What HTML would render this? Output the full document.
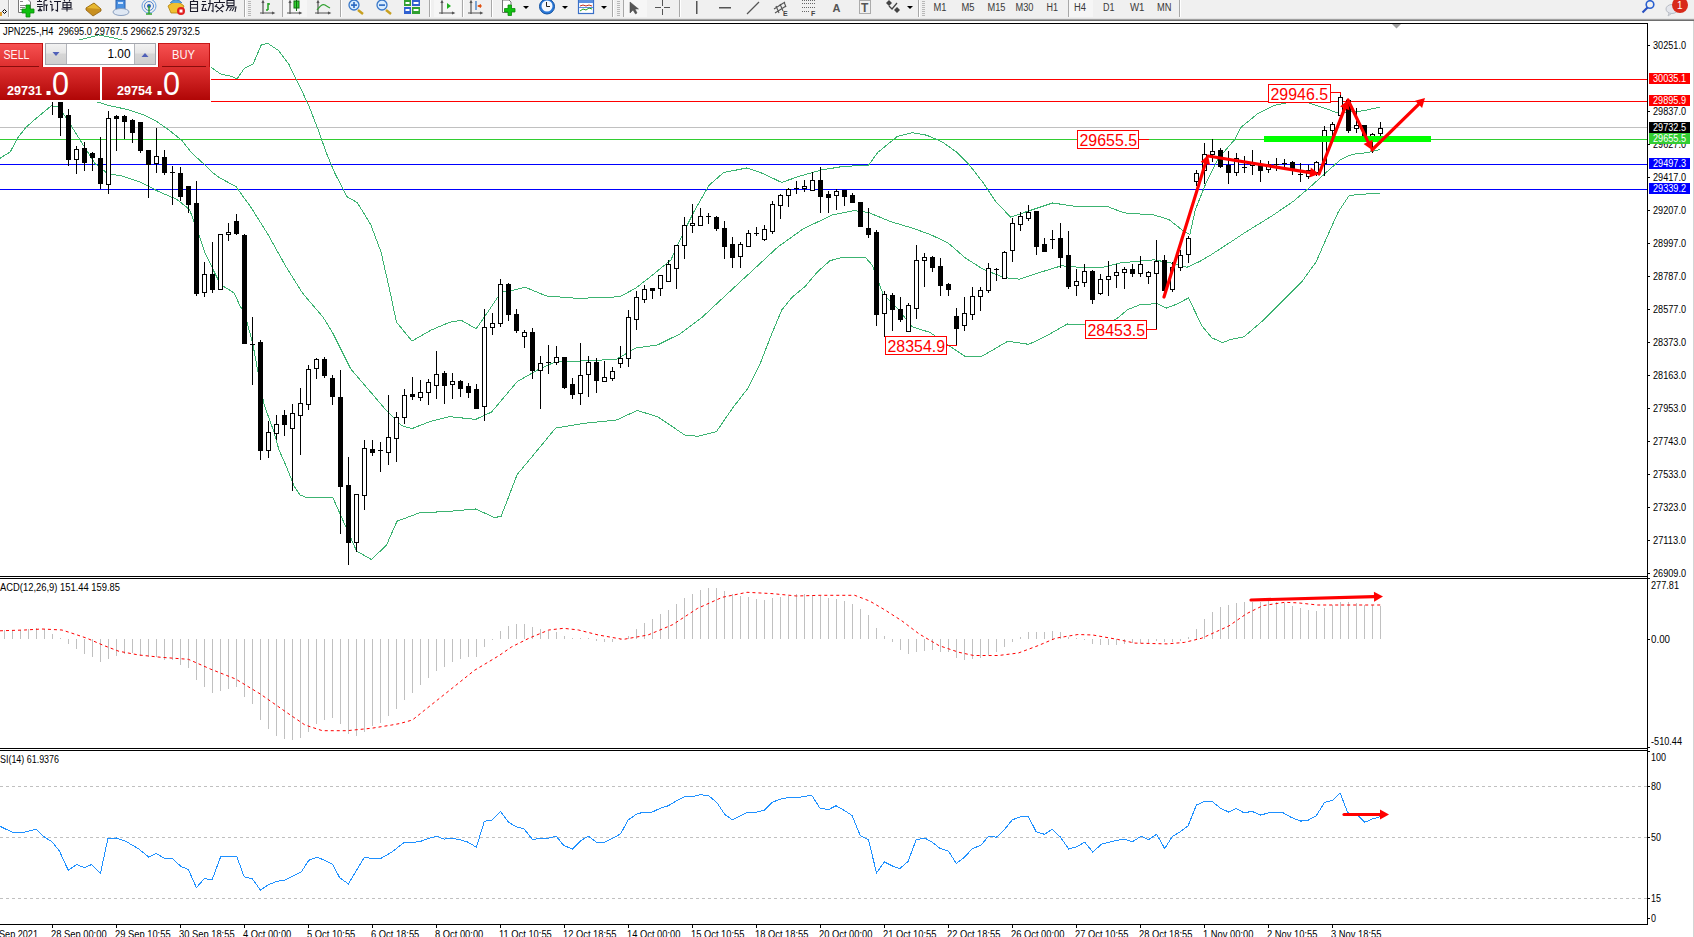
<!DOCTYPE html><html><head><meta charset="utf-8"><style>html,body{margin:0;padding:0;background:#fff;overflow:hidden}svg{display:block}text{font-family:"Liberation Sans", sans-serif}</style></head><body>
<svg width="1694" height="937" viewBox="0 0 1694 937">
<rect x="0" y="0" width="1694" height="937" fill="#fff"/>
<g id="toolbar">
<rect x="0" y="0" width="1694" height="19" fill="#f0f0f0"/>
<rect x="0" y="18" width="1694" height="1" fill="#e3e3e3"/>
<rect x="0" y="19" width="1694" height="1" fill="#a0a0a0"/>
<rect x="0" y="20" width="1694" height="1" fill="#6e6e6e"/>
</g>
<g id="tb">
<rect x="0" y="12" width="2" height="4" fill="#e0a030"/>
<polygon points="4.5,9.5 6.5,11.5 4.5,13.5 2.5,11.5" fill="none" stroke="#000" stroke-width="1"/>
<rect x="8" y="0" width="1" height="17" fill="#a8a8a8" shape-rendering="crispEdges"/>
<rect x="9" y="0" width="1" height="17" fill="#ffffff" shape-rendering="crispEdges"/>
<path d="M18.5,-1.5 H27 L30.5,2 V12.5 H18.5 Z" fill="#fff" stroke="#777" stroke-width="1"/>
<rect x="20" y="1" width="3" height="1" fill="#888"/><rect x="20" y="5" width="6" height="1" fill="#888"/><rect x="20" y="7" width="5" height="1" fill="#888"/><rect x="20" y="9" width="3" height="1" fill="#888"/>
<path d="M26,5 h4 v4 h4 v4 h-4 v4 h-4 v-4 h-4 v-4 h4 z" fill="#10c010" stroke="#0a8a0a" stroke-width="0.8"/>
<g stroke="#1a1a2a" stroke-width="1.1" fill="none">
<path d="M37,1.5 h5 M39.5,0 v2 M37,4.5 h5.5 M37,6.5 h6 M40,6.5 v5 M40,9 l-2,2 M40,9 l2,2 M44,1 v10 M44,1 l3,-1 M44,5 h4 M46.5,5 v6"/>
<path d="M50,1 l1.5,1.5 M50,4.5 h2 v6 l1.5,-1.5 M54,1.5 h7 M57.5,1.5 v9.5 l-2,-1"/>
<path d="M64,0 l1,1.5 M70,0 l-1,1.5 M63,2.5 h8 v5 h-8 z M63,5 h8 M61.5,9 h11 M67,2.5 v9"/>
</g>
<path d="M86,8 L94,3 L101,9 L93,14 Z" fill="#e8b830" stroke="#a07010" stroke-width="1"/>
<path d="M86,8 L86,10 L93,16 L101,11 L101,9" fill="#c89020" stroke="#906010" stroke-width="0.8"/>
<rect x="116" y="0" width="9" height="9" fill="#4a90e0" stroke="#2a60b0" stroke-width="1"/>
<rect x="118" y="2" width="5" height="2" fill="#cfe4ff"/>
<ellipse cx="121" cy="12" rx="8" ry="3.5" fill="#dfe8f4" stroke="#8aa0c0" stroke-width="1"/>
<circle cx="149" cy="6" r="7" fill="none" stroke="#6aa0e0" stroke-width="1"/>
<circle cx="149" cy="6" r="4.5" fill="none" stroke="#4a80d0" stroke-width="1"/>
<circle cx="149" cy="6" r="2" fill="#2a60b0"/>
<path d="M149,6 v8 M146,14 h6" stroke="#30a030" stroke-width="1.5"/>
<path d="M168,6 Q176,-2 184,6 L181,13 L171,13 Z" fill="#f0c030" stroke="#b08010" stroke-width="0.8"/>
<path d="M170,3 Q176,-4 182,3" fill="#5aa0d8" stroke="#3070b0" stroke-width="0.8"/>
<circle cx="181" cy="11" r="4" fill="#e02020"/><rect x="179.5" y="9.5" width="3" height="3" fill="#fff"/>
<g stroke="#1a1a2a" stroke-width="1.1" fill="none">
<path d="M194,0 l-1,1.5 M190.5,1.5 h7 v10 h-7 z M190.5,4.5 h7 M190.5,8 h7"/>
<path d="M202,1.5 h4 M201.5,4.5 h5 M204,4.5 l-2,6 h5 M205,8 l1,2 M208,3.5 h5 v8 l-1.5,-1 M210,0 v5 l-2,6"/>
<path d="M219.5,0 v2 M214,2.5 h11 M217,4 l-2,3 M222,4 l2,3 M216,6 l7,6 M223,6 l-7,6"/>
<path d="M227,0.5 h7 v5 h-7 z M227,3 h7 M227,7 h9 l-1,5 M229,6 l-3,5 M231.5,8 l-2,3 M234,8 l-2,3"/>
</g>
<rect x="244" y="0" width="1" height="17" fill="#a8a8a8" shape-rendering="crispEdges"/>
<rect x="245" y="0" width="1" height="17" fill="#ffffff" shape-rendering="crispEdges"/>
<rect x="248" y="1" width="3" height="1" fill="#b8b8b8" shape-rendering="crispEdges"/>
<rect x="248" y="3" width="3" height="1" fill="#b8b8b8" shape-rendering="crispEdges"/>
<rect x="248" y="5" width="3" height="1" fill="#b8b8b8" shape-rendering="crispEdges"/>
<rect x="248" y="7" width="3" height="1" fill="#b8b8b8" shape-rendering="crispEdges"/>
<rect x="248" y="9" width="3" height="1" fill="#b8b8b8" shape-rendering="crispEdges"/>
<rect x="248" y="11" width="3" height="1" fill="#b8b8b8" shape-rendering="crispEdges"/>
<rect x="248" y="13" width="3" height="1" fill="#b8b8b8" shape-rendering="crispEdges"/>
<rect x="248" y="15" width="3" height="1" fill="#b8b8b8" shape-rendering="crispEdges"/>
<g stroke="#555" stroke-width="1.2" fill="none"><path d="M263,1 V14 M260,13 H274 M262,3 l1,-2 l1,2 M272,12 l2,1 l-2,1"/></g>
<path d="M268,3 V10 M266,10 H268 M268,4 H270" stroke="#20a020" stroke-width="1.5"/>
<rect x="282" y="0" width="1" height="17" fill="#a8a8a8" shape-rendering="crispEdges"/>
<rect x="283" y="0" width="1" height="17" fill="#ffffff" shape-rendering="crispEdges"/>
<rect x="283" y="0" width="24" height="17" fill="#f6f6f6" shape-rendering="crispEdges"/>
<g stroke="#555" stroke-width="1.2" fill="none"><path d="M290,1 V14 M287,13 H301 M289,3 l1,-2 l1,2 M299,12 l2,1 l-2,1"/></g>
<rect x="294" y="1" width="5" height="7" fill="#30d030" stroke="#107010" stroke-width="1"/><path d="M296.5,0 V11" stroke="#107010" stroke-width="1"/>
<g stroke="#555" stroke-width="1.2" fill="none"><path d="M318,1 V14 M315,13 H330 M317,3 l1,-2 l1,2 M328,12 l2,1 l-2,1"/></g>
<path d="M317,10 Q322,3 325,5 T330,8" stroke="#30a030" stroke-width="1.2" fill="none"/>
<rect x="340" y="0" width="1" height="17" fill="#a8a8a8" shape-rendering="crispEdges"/>
<rect x="341" y="0" width="1" height="17" fill="#ffffff" shape-rendering="crispEdges"/>
<line x1="358" y1="10" x2="363" y2="14" stroke="#c8a020" stroke-width="2.5"/>
<circle cx="354" cy="5" r="5" fill="#d8ecff" stroke="#3a78c8" stroke-width="1.3"/>
<rect x="351" y="4.3" width="6" height="1.6" fill="#2a68c0"/>
<rect x="353.2" y="2" width="1.6" height="6" fill="#2a68c0"/>
<line x1="386" y1="10" x2="391" y2="14" stroke="#c8a020" stroke-width="2.5"/>
<circle cx="382" cy="5" r="5" fill="#d8ecff" stroke="#3a78c8" stroke-width="1.3"/>
<rect x="379" y="4.3" width="6" height="1.6" fill="#2a68c0"/>
<rect x="404" y="0" width="7" height="6" fill="#30a030"/><rect x="412" y="0" width="8" height="6" fill="#3060d0"/><rect x="404" y="7" width="7" height="7" fill="#3060d0"/><rect x="412" y="7" width="8" height="7" fill="#30a030"/>
<g fill="#fff"><rect x="405.5" y="2" width="4" height="2"/><rect x="413.5" y="2" width="5" height="2"/><rect x="405.5" y="9" width="4" height="2"/><rect x="413.5" y="9" width="5" height="2"/></g>
<rect x="429" y="0" width="1" height="17" fill="#a8a8a8" shape-rendering="crispEdges"/>
<rect x="430" y="0" width="1" height="17" fill="#ffffff" shape-rendering="crispEdges"/>
<rect x="434" y="0" width="27" height="17" fill="#f6f6f6" shape-rendering="crispEdges"/>
<g stroke="#555" stroke-width="1.2" fill="none"><path d="M442,1 V14 M439,13 H454 M441,3 l1,-2 l1,2 M452,12 l2,1 l-2,1"/></g>
<polygon points="447,3 451,6 447,9" fill="#20b020"/>
<rect x="462" y="0" width="1" height="17" fill="#a8a8a8" shape-rendering="crispEdges"/>
<rect x="463" y="0" width="1" height="17" fill="#ffffff" shape-rendering="crispEdges"/>
<g stroke="#555" stroke-width="1.2" fill="none"><path d="M471,1 V14 M468,13 H482 M470,3 l1,-2 l1,2 M480,12 l2,1 l-2,1"/></g>
<path d="M476,1 V10" stroke="#2a70c0" stroke-width="1.2"/><polygon points="477,6 481,4 481,8" fill="#e05010"/><rect x="478" y="5.5" width="4" height="1" fill="#e05010"/>
<rect x="491" y="0" width="1" height="17" fill="#a8a8a8" shape-rendering="crispEdges"/>
<rect x="492" y="0" width="1" height="17" fill="#ffffff" shape-rendering="crispEdges"/>
<path d="M502.5,0 H509 L511,2 V12.5 H502.5 Z" fill="#fff" stroke="#777" stroke-width="1"/>
<path d="M508,5 h3.5 v3.5 h3.5 v3.5 h-3.5 v3.5 h-3.5 v-3.5 h-3.5 v-3.5 h3.5 z" fill="#10c010" stroke="#0a8a0a" stroke-width="0.8"/>
<polygon points="523,6 529,6 526,9" fill="#000"/>
<circle cx="547" cy="6.5" r="7.5" fill="#2a78d8" stroke="#1050a0" stroke-width="1"/>
<circle cx="547" cy="6" r="5.5" fill="#f4f8ff"/>
<path d="M546.5,2 V6.5 H550" stroke="#222" stroke-width="1" fill="none"/>
<polygon points="562,6 568,6 565,9" fill="#000"/>
<rect x="578.5" y="0.5" width="15" height="13" fill="#fff" stroke="#3a70c8" stroke-width="1.2"/>
<rect x="579" y="0" width="14" height="3" fill="#5a90e0"/><rect x="579" y="7" width="14" height="1" fill="#5a90e0"/>
<path d="M580,6 l3,-1 l3,1 l3,-1 l3,1" stroke="#c03020" stroke-width="1" fill="none"/><path d="M580,11 l3,-2 l3,1 l3,-2 l3,1" stroke="#20a020" stroke-width="1" fill="none"/>
<polygon points="601,6 607,6 604,9" fill="#000"/>
<rect x="612" y="0" width="1" height="17" fill="#a8a8a8" shape-rendering="crispEdges"/>
<rect x="613" y="0" width="1" height="17" fill="#ffffff" shape-rendering="crispEdges"/>
<rect x="617" y="1" width="3" height="1" fill="#b8b8b8" shape-rendering="crispEdges"/>
<rect x="617" y="3" width="3" height="1" fill="#b8b8b8" shape-rendering="crispEdges"/>
<rect x="617" y="5" width="3" height="1" fill="#b8b8b8" shape-rendering="crispEdges"/>
<rect x="617" y="7" width="3" height="1" fill="#b8b8b8" shape-rendering="crispEdges"/>
<rect x="617" y="9" width="3" height="1" fill="#b8b8b8" shape-rendering="crispEdges"/>
<rect x="617" y="11" width="3" height="1" fill="#b8b8b8" shape-rendering="crispEdges"/>
<rect x="617" y="13" width="3" height="1" fill="#b8b8b8" shape-rendering="crispEdges"/>
<rect x="617" y="15" width="3" height="1" fill="#b8b8b8" shape-rendering="crispEdges"/>
<rect x="623" y="0" width="1" height="17" fill="#a8a8a8" shape-rendering="crispEdges"/>
<rect x="624" y="0" width="1" height="17" fill="#ffffff" shape-rendering="crispEdges"/>
<rect x="624" y="0" width="23" height="17" fill="#f6f6f6" shape-rendering="crispEdges"/>
<path d="M630,2 L630,13 L633,10 L635.5,14 L637,13 L635,9 L638.5,9 Z" fill="#555" stroke="#444" stroke-width="0.5"/>
<g fill="#555" shape-rendering="crispEdges"><rect x="655" y="7" width="6" height="1"/><rect x="664" y="7" width="6" height="1"/><rect x="662" y="0" width="1" height="6"/><rect x="662" y="9" width="1" height="6"/></g>
<rect x="679" y="0" width="1" height="17" fill="#a8a8a8" shape-rendering="crispEdges"/>
<rect x="680" y="0" width="1" height="17" fill="#ffffff" shape-rendering="crispEdges"/>
<rect x="696" y="1" width="1.5" height="13" fill="#555"/>
<rect x="719" y="7" width="12" height="1.5" fill="#555"/>
<line x1="747" y1="14" x2="759" y2="2" stroke="#555" stroke-width="1.3"/>
<g stroke="#555" stroke-width="1.1" fill="none"><path d="M774,9 l11,-7 M775,13 l11,-7 M776,6 l3,7 M780,4 l3,7 M784,2 l2,5"/></g>
<text x="783" y="16" font-size="7" font-weight="bold" fill="#444">E</text>
<g stroke="#666" stroke-width="1" stroke-dasharray="1,1" shape-rendering="crispEdges"><line x1="802" y1="0.5" x2="815" y2="0.5"/><line x1="802" y1="3.5" x2="815" y2="3.5"/><line x1="802" y1="7.5" x2="815" y2="7.5"/><line x1="802" y1="11.5" x2="810" y2="11.5"/></g>
<text x="811" y="16" font-size="7" font-weight="bold" fill="#444">F</text>
<text x="832.5" y="11.7" font-size="11" font-weight="bold" fill="#555">A</text>
<rect x="859.5" y="0.5" width="11" height="13" fill="none" stroke="#666" stroke-width="1" stroke-dasharray="1,1"/>
<text x="861" y="12" font-size="12" font-weight="bold" fill="#555">T</text>
<polygon points="886,3 889,0 892,3 889,6" fill="#444"/><path d="M889,6 l3,3 l5,-6" stroke="#444" stroke-width="1.3" fill="none"/><polygon points="894,10 897,7 900,10 897,13" fill="#444"/>
<polygon points="907,6 913,6 910,9" fill="#000"/>
<rect x="918" y="0" width="1" height="17" fill="#a8a8a8" shape-rendering="crispEdges"/>
<rect x="919" y="0" width="1" height="17" fill="#ffffff" shape-rendering="crispEdges"/>
<rect x="922" y="1" width="3" height="1" fill="#b8b8b8" shape-rendering="crispEdges"/>
<rect x="922" y="3" width="3" height="1" fill="#b8b8b8" shape-rendering="crispEdges"/>
<rect x="922" y="5" width="3" height="1" fill="#b8b8b8" shape-rendering="crispEdges"/>
<rect x="922" y="7" width="3" height="1" fill="#b8b8b8" shape-rendering="crispEdges"/>
<rect x="922" y="9" width="3" height="1" fill="#b8b8b8" shape-rendering="crispEdges"/>
<rect x="922" y="11" width="3" height="1" fill="#b8b8b8" shape-rendering="crispEdges"/>
<rect x="922" y="13" width="3" height="1" fill="#b8b8b8" shape-rendering="crispEdges"/>
<rect x="922" y="15" width="3" height="1" fill="#b8b8b8" shape-rendering="crispEdges"/>
<text x="933.5" y="11" font-size="10" fill="#3a3a3a" text-anchor="start" font-weight="normal" textLength="13" lengthAdjust="spacingAndGlyphs">M1</text>
<text x="961.5" y="11" font-size="10" fill="#3a3a3a" text-anchor="start" font-weight="normal" textLength="13" lengthAdjust="spacingAndGlyphs">M5</text>
<text x="987.5" y="11" font-size="10" fill="#3a3a3a" text-anchor="start" font-weight="normal" textLength="18" lengthAdjust="spacingAndGlyphs">M15</text>
<text x="1015.5" y="11" font-size="10" fill="#3a3a3a" text-anchor="start" font-weight="normal" textLength="18" lengthAdjust="spacingAndGlyphs">M30</text>
<text x="1046.5" y="11" font-size="10" fill="#3a3a3a" text-anchor="start" font-weight="normal" textLength="11.5" lengthAdjust="spacingAndGlyphs">H1</text>
<rect x="1068" y="0" width="1" height="17" fill="#a8a8a8" shape-rendering="crispEdges"/>
<rect x="1069" y="0" width="1" height="17" fill="#ffffff" shape-rendering="crispEdges"/>
<rect x="1069" y="0" width="24" height="17" fill="#f6f6f6" shape-rendering="crispEdges"/>
<text x="1074" y="11" font-size="10" fill="#3a3a3a" text-anchor="start" font-weight="normal" textLength="12" lengthAdjust="spacingAndGlyphs">H4</text>
<text x="1103" y="11" font-size="10" fill="#3a3a3a" text-anchor="start" font-weight="normal" textLength="11.5" lengthAdjust="spacingAndGlyphs">D1</text>
<text x="1130" y="11" font-size="10" fill="#3a3a3a" text-anchor="start" font-weight="normal" textLength="14.5" lengthAdjust="spacingAndGlyphs">W1</text>
<text x="1157" y="11" font-size="10" fill="#3a3a3a" text-anchor="start" font-weight="normal" textLength="14.5" lengthAdjust="spacingAndGlyphs">MN</text>
<rect x="1179" y="0" width="1" height="17" fill="#a8a8a8" shape-rendering="crispEdges"/>
<rect x="1180" y="0" width="1" height="17" fill="#ffffff" shape-rendering="crispEdges"/>
<circle cx="1650" cy="4.5" r="3.8" fill="none" stroke="#2a60d0" stroke-width="1.6"/>
<line x1="1647.5" y1="7.5" x2="1642.5" y2="12.5" stroke="#2a50c0" stroke-width="2.2"/>
<ellipse cx="1672" cy="9" rx="6" ry="4.5" fill="#e4e6ec" stroke="#b8bcc4" stroke-width="1"/>
<path d="M1669,13 l-1,3 l3,-2" fill="#d0d4dc" stroke="#b8bcc4" stroke-width="0.8"/>
<circle cx="1680" cy="5" r="8" fill="#d82a1a"/>
<text x="1677" y="9" font-size="10" fill="#fff" font-family="Liberation Serif">1</text>
</g>
<g shape-rendering="crispEdges">
<rect x="1693" y="21" width="1" height="916" fill="#d4d4d4"/>
<rect x="0" y="23" width="1648" height="1" fill="#000"/>
<rect x="0" y="576" width="1648" height="1" fill="#000"/>
<rect x="0" y="578" width="1648" height="1" fill="#000"/>
<rect x="0" y="748" width="1648" height="1" fill="#000"/>
<rect x="0" y="750" width="1648" height="1" fill="#000"/>
<rect x="0" y="924" width="1648" height="1" fill="#000"/>
<rect x="1647" y="23" width="1" height="902" fill="#000"/>
</g>
<defs><clipPath id="cm"><rect x="0" y="24" width="1647" height="552"/></clipPath><clipPath id="cmacd"><rect x="0" y="579" width="1647" height="169"/></clipPath><clipPath id="crsi"><rect x="0" y="751" width="1647" height="173"/></clipPath></defs>
<g clip-path="url(#cm)">
<g shape-rendering="crispEdges">
<rect x="0" y="79" width="1647" height="1" fill="#ff0000"/>
<rect x="0" y="101" width="1647" height="1" fill="#ff0000"/>
<rect x="0" y="127" width="1647" height="1" fill="#c0c0c0"/>
<rect x="0" y="139" width="1647" height="1" fill="#32cd32"/>
<rect x="0" y="164" width="1647" height="1" fill="#0000ff"/>
<rect x="0" y="189" width="1647" height="1" fill="#0000ff"/>
</g>
<polyline points="79.0,40.0 89.6,37.4 98.6,34.9 107.6,36.6 122.4,40.0 140.0,46.0 180.0,58.0 211.3,67.4 220.5,74.0 230.7,76.1 236.9,79.0 244.4,68.3 253.0,64.2 261.5,44.3 268.3,43.7 278.6,50.5 288.8,64.2 299.0,84.7 309.3,106.9 317.9,129.1 326.4,153.0 335.0,173.5 346.9,196.7 357.2,202.5 370.8,224.7 381.0,252.0 389.6,289.7 396.4,322.0 411.9,341.0 431.3,330.0 449.3,322.4 461.2,320.2 476.2,328.8 488.4,311.2 501.2,292.0 512.4,290.4 525.2,287.2 546.0,295.9 578.0,298.4 619.7,296.8 635.7,288.2 653.3,274.4 670.9,260.0 680.0,239.7 694.5,210.6 709.0,185.3 723.5,172.6 747.1,167.9 763.4,173.7 781.5,182.4 799.7,176.2 821.4,170.0 843.2,166.4 868.5,165.3 877.6,152.6 897.5,136.3 912.0,132.7 926.6,135.2 942.0,141.8 956.9,152.3 968.8,164.2 983.8,183.6 995.7,201.6 1010.6,217.1 1025.6,212.0 1052.5,203.0 1073.4,206.0 1106.2,206.0 1124.1,212.9 1154.0,215.0 1168.9,219.5 1183.9,231.4 1189.9,234.4 1195.4,209.6 1205.6,184.0 1218.4,158.4 1235.0,139.2 1241.0,127.4 1257.7,113.6 1274.4,105.3 1288.0,102.5 1307.7,102.5 1324.3,108.0 1335.4,112.2 1349.3,112.2 1363.0,110.8 1379.8,107.2" fill="none" stroke="#3cb371" stroke-width="1" shape-rendering="crispEdges"/>
<polyline points="60.0,92.0 97.3,102.0 110.1,105.8 128.0,109.6 143.4,114.7 156.2,121.2 169.0,130.1 181.8,140.4 192.0,153.2 204.9,165.0 213.7,173.5 220.0,178.0 235.9,186.5 251.2,207.7 268.3,235.0 285.4,265.7 302.5,293.1 323.0,317.0 332.7,332.9 350.6,368.8 368.6,389.7 386.5,410.6 401.4,425.6 411.9,428.6 431.3,421.1 449.3,416.6 475.6,419.4 491.6,412.0 517.2,381.6 539.6,368.8 555.6,361.8 587.6,360.8 616.5,359.2 635.7,348.0 658.0,344.8 680.5,333.6 701.8,317.6 727.1,294.0 752.5,270.5 777.9,246.9 803.3,228.8 832.3,215.0 854.0,210.6 868.5,212.5 890.3,221.5 912.0,228.0 930.0,234.4 947.9,242.8 965.8,258.3 983.8,269.7 1004.7,277.7 1019.6,279.2 1037.5,273.2 1061.4,265.8 1079.3,267.3 1103.2,267.3 1121.2,262.8 1154.0,259.8 1174.9,263.7 1186.9,267.3 1200.0,261.3 1211.7,254.4 1233.8,240.0 1246.6,231.5 1271.6,216.2 1293.8,201.0 1313.2,184.3 1329.9,169.0 1341.0,159.3 1352.0,154.4 1368.7,152.4 1379.8,149.6" fill="none" stroke="#3cb371" stroke-width="1" shape-rendering="crispEdges"/>
<polyline points="0.0,158.3 10.2,151.9 17.9,137.8 25.6,127.6 35.9,118.6 51.2,105.8 58.9,107.0 69.1,122.4 81.9,142.9 94.8,163.4 107.6,173.6 122.9,176.2 138.3,181.3 158.8,191.6 176.7,199.3 189.5,209.5 197.2,230.0 204.9,253.0 220.5,284.5 234.2,293.0 240.0,306.0 245.0,314.0 253.0,345.0 263.9,404.0 274.0,432.0 279.0,450.0 287.0,468.0 294.0,486.0 300.0,495.0 306.0,497.3 332.7,497.3 344.6,524.2 356.6,551.1 371.5,559.5 386.5,545.1 397.0,521.2 419.4,512.9 450.0,511.3 475.6,509.0 494.8,517.7 501.2,516.1 517.2,474.5 533.2,455.3 555.6,428.0 584.4,423.3 616.5,420.0 637.3,410.4 658.0,416.9 685.3,435.4 698.1,436.2 716.3,431.8 732.7,407.9 747.6,388.7 760.4,363.1 771.1,335.4 781.8,309.8 792.4,297.0 805.2,286.3 818.0,271.3 830.0,260.7 843.2,257.0 864.9,257.0 872.2,265.0 883.0,294.0 897.5,308.5 912.0,326.7 930.0,332.4 947.9,344.9 965.8,356.9 980.8,356.9 1007.7,341.3 1028.6,344.3 1043.5,337.5 1067.4,324.0 1085.3,324.6 1103.2,324.6 1116.3,319.0 1127.9,309.5 1139.4,305.0 1157.0,303.5 1166.5,308.0 1176.0,304.5 1188.5,298.0 1202.0,326.0 1211.7,337.7 1222.6,342.6 1230.0,339.7 1243.9,336.9 1263.3,320.2 1285.5,298.0 1302.1,281.4 1316.0,262.0 1327.0,237.0 1338.2,212.0 1349.3,195.4 1365.9,194.0 1379.8,193.2" fill="none" stroke="#3cb371" stroke-width="1" shape-rendering="crispEdges"/>
<g shape-rendering="crispEdges">
<rect x="52" y="96" width="1" height="19" fill="#000"/>
<rect x="50" y="96" width="5" height="5" fill="#000"/>
<rect x="60" y="96" width="1" height="40" fill="#000"/>
<rect x="58" y="96" width="5" height="22" fill="#000"/>
<rect x="68" y="109" width="1" height="57" fill="#000"/>
<rect x="66" y="115" width="5" height="45" fill="#000"/>
<rect x="76" y="146" width="1" height="28" fill="#000"/>
<rect x="74" y="149" width="5" height="11" fill="#000"/>
<rect x="75" y="150" width="3" height="9" fill="#fff"/>
<rect x="84" y="142" width="1" height="29" fill="#000"/>
<rect x="82" y="148" width="5" height="15" fill="#000"/>
<rect x="92" y="152" width="1" height="19" fill="#000"/>
<rect x="90" y="153" width="5" height="5" fill="#000"/>
<rect x="100" y="137" width="1" height="52" fill="#000"/>
<rect x="98" y="158" width="5" height="26" fill="#000"/>
<rect x="108" y="111" width="1" height="83" fill="#000"/>
<rect x="106" y="118" width="5" height="67" fill="#000"/>
<rect x="107" y="119" width="3" height="65" fill="#fff"/>
<rect x="116" y="115" width="1" height="36" fill="#000"/>
<rect x="114" y="116" width="5" height="3" fill="#000"/>
<rect x="124" y="115" width="1" height="24" fill="#000"/>
<rect x="122" y="116" width="5" height="6" fill="#000"/>
<rect x="132" y="119" width="1" height="24" fill="#000"/>
<rect x="130" y="120" width="5" height="13" fill="#000"/>
<rect x="140" y="122" width="1" height="31" fill="#000"/>
<rect x="138" y="122" width="5" height="29" fill="#000"/>
<rect x="148" y="150" width="1" height="48" fill="#000"/>
<rect x="146" y="150" width="5" height="15" fill="#000"/>
<rect x="156" y="128" width="1" height="45" fill="#000"/>
<rect x="154" y="156" width="5" height="8" fill="#000"/>
<rect x="155" y="157" width="3" height="6" fill="#fff"/>
<rect x="164" y="150" width="1" height="25" fill="#000"/>
<rect x="162" y="157" width="5" height="16" fill="#000"/>
<rect x="172" y="166" width="1" height="39" fill="#000"/>
<rect x="170" y="172" width="5" height="1" fill="#000"/>
<rect x="180" y="167" width="1" height="34" fill="#000"/>
<rect x="178" y="173" width="5" height="24" fill="#000"/>
<rect x="188" y="186" width="1" height="27" fill="#000"/>
<rect x="186" y="186" width="5" height="19" fill="#000"/>
<rect x="196" y="181" width="1" height="115" fill="#000"/>
<rect x="194" y="203" width="5" height="91" fill="#000"/>
<rect x="204" y="262" width="1" height="35" fill="#000"/>
<rect x="202" y="274" width="5" height="19" fill="#000"/>
<rect x="203" y="275" width="3" height="17" fill="#fff"/>
<rect x="212" y="242" width="1" height="51" fill="#000"/>
<rect x="210" y="274" width="5" height="16" fill="#000"/>
<rect x="220" y="234" width="1" height="56" fill="#000"/>
<rect x="218" y="234" width="5" height="56" fill="#000"/>
<rect x="219" y="235" width="3" height="54" fill="#fff"/>
<rect x="228" y="223" width="1" height="18" fill="#000"/>
<rect x="226" y="232" width="5" height="3" fill="#000"/>
<rect x="227" y="233" width="3" height="1" fill="#fff"/>
<rect x="236" y="214" width="1" height="21" fill="#000"/>
<rect x="234" y="221" width="5" height="13" fill="#000"/>
<rect x="244" y="234" width="1" height="110" fill="#000"/>
<rect x="242" y="235" width="5" height="109" fill="#000"/>
<rect x="252" y="317" width="1" height="68" fill="#000"/>
<rect x="250" y="344" width="5" height="1" fill="#000"/>
<rect x="260" y="340" width="1" height="120" fill="#000"/>
<rect x="258" y="342" width="5" height="109" fill="#000"/>
<rect x="268" y="421" width="1" height="37" fill="#000"/>
<rect x="266" y="432" width="5" height="19" fill="#000"/>
<rect x="267" y="433" width="3" height="17" fill="#fff"/>
<rect x="276" y="415" width="1" height="25" fill="#000"/>
<rect x="274" y="424" width="5" height="10" fill="#000"/>
<rect x="275" y="425" width="3" height="8" fill="#fff"/>
<rect x="284" y="410" width="1" height="26" fill="#000"/>
<rect x="282" y="415" width="5" height="10" fill="#000"/>
<rect x="292" y="404" width="1" height="87" fill="#000"/>
<rect x="290" y="413" width="5" height="16" fill="#000"/>
<rect x="291" y="414" width="3" height="14" fill="#fff"/>
<rect x="300" y="388" width="1" height="67" fill="#000"/>
<rect x="298" y="403" width="5" height="13" fill="#000"/>
<rect x="299" y="404" width="3" height="11" fill="#fff"/>
<rect x="308" y="365" width="1" height="45" fill="#000"/>
<rect x="306" y="369" width="5" height="36" fill="#000"/>
<rect x="307" y="370" width="3" height="34" fill="#fff"/>
<rect x="316" y="358" width="1" height="21" fill="#000"/>
<rect x="314" y="359" width="5" height="10" fill="#000"/>
<rect x="315" y="360" width="3" height="8" fill="#fff"/>
<rect x="324" y="357" width="1" height="21" fill="#000"/>
<rect x="322" y="359" width="5" height="17" fill="#000"/>
<rect x="332" y="375" width="1" height="30" fill="#000"/>
<rect x="330" y="378" width="5" height="19" fill="#000"/>
<rect x="340" y="370" width="1" height="164" fill="#000"/>
<rect x="338" y="397" width="5" height="90" fill="#000"/>
<rect x="348" y="457" width="1" height="108" fill="#000"/>
<rect x="346" y="485" width="5" height="58" fill="#000"/>
<rect x="356" y="494" width="1" height="58" fill="#000"/>
<rect x="354" y="494" width="5" height="49" fill="#000"/>
<rect x="355" y="495" width="3" height="47" fill="#fff"/>
<rect x="364" y="440" width="1" height="70" fill="#000"/>
<rect x="362" y="448" width="5" height="48" fill="#000"/>
<rect x="363" y="449" width="3" height="46" fill="#fff"/>
<rect x="372" y="440" width="1" height="16" fill="#000"/>
<rect x="370" y="449" width="5" height="4" fill="#000"/>
<rect x="380" y="442" width="1" height="30" fill="#000"/>
<rect x="378" y="450" width="5" height="1" fill="#000"/>
<rect x="388" y="395" width="1" height="70" fill="#000"/>
<rect x="386" y="437" width="5" height="16" fill="#000"/>
<rect x="387" y="438" width="3" height="14" fill="#fff"/>
<rect x="396" y="412" width="1" height="50" fill="#000"/>
<rect x="394" y="417" width="5" height="22" fill="#000"/>
<rect x="395" y="418" width="3" height="20" fill="#fff"/>
<rect x="404" y="389" width="1" height="35" fill="#000"/>
<rect x="402" y="395" width="5" height="23" fill="#000"/>
<rect x="403" y="396" width="3" height="21" fill="#fff"/>
<rect x="412" y="377" width="1" height="23" fill="#000"/>
<rect x="410" y="394" width="5" height="3" fill="#000"/>
<rect x="420" y="380" width="1" height="21" fill="#000"/>
<rect x="418" y="392" width="5" height="6" fill="#000"/>
<rect x="419" y="393" width="3" height="4" fill="#fff"/>
<rect x="428" y="379" width="1" height="26" fill="#000"/>
<rect x="426" y="382" width="5" height="11" fill="#000"/>
<rect x="427" y="383" width="3" height="9" fill="#fff"/>
<rect x="436" y="351" width="1" height="48" fill="#000"/>
<rect x="434" y="374" width="5" height="12" fill="#000"/>
<rect x="435" y="375" width="3" height="10" fill="#fff"/>
<rect x="444" y="371" width="1" height="33" fill="#000"/>
<rect x="442" y="373" width="5" height="13" fill="#000"/>
<rect x="452" y="373" width="1" height="26" fill="#000"/>
<rect x="450" y="381" width="5" height="4" fill="#000"/>
<rect x="451" y="382" width="3" height="2" fill="#fff"/>
<rect x="460" y="380" width="1" height="17" fill="#000"/>
<rect x="458" y="381" width="5" height="8" fill="#000"/>
<rect x="468" y="383" width="1" height="15" fill="#000"/>
<rect x="466" y="386" width="5" height="7" fill="#000"/>
<rect x="476" y="384" width="1" height="25" fill="#000"/>
<rect x="474" y="389" width="5" height="20" fill="#000"/>
<rect x="484" y="309" width="1" height="112" fill="#000"/>
<rect x="482" y="327" width="5" height="80" fill="#000"/>
<rect x="483" y="328" width="3" height="78" fill="#fff"/>
<rect x="492" y="313" width="1" height="22" fill="#000"/>
<rect x="490" y="323" width="5" height="5" fill="#000"/>
<rect x="491" y="324" width="3" height="3" fill="#fff"/>
<rect x="500" y="279" width="1" height="48" fill="#000"/>
<rect x="498" y="284" width="5" height="40" fill="#000"/>
<rect x="499" y="285" width="3" height="38" fill="#fff"/>
<rect x="508" y="283" width="1" height="38" fill="#000"/>
<rect x="506" y="284" width="5" height="31" fill="#000"/>
<rect x="516" y="309" width="1" height="24" fill="#000"/>
<rect x="514" y="314" width="5" height="17" fill="#000"/>
<rect x="524" y="330" width="1" height="18" fill="#000"/>
<rect x="522" y="332" width="5" height="5" fill="#000"/>
<rect x="523" y="333" width="3" height="3" fill="#fff"/>
<rect x="532" y="328" width="1" height="51" fill="#000"/>
<rect x="530" y="332" width="5" height="39" fill="#000"/>
<rect x="540" y="356" width="1" height="53" fill="#000"/>
<rect x="538" y="363" width="5" height="8" fill="#000"/>
<rect x="539" y="364" width="3" height="6" fill="#fff"/>
<rect x="548" y="345" width="1" height="29" fill="#000"/>
<rect x="546" y="362" width="5" height="1" fill="#000"/>
<rect x="556" y="346" width="1" height="19" fill="#000"/>
<rect x="554" y="357" width="5" height="6" fill="#000"/>
<rect x="555" y="358" width="3" height="4" fill="#fff"/>
<rect x="564" y="357" width="1" height="32" fill="#000"/>
<rect x="562" y="357" width="5" height="31" fill="#000"/>
<rect x="572" y="378" width="1" height="21" fill="#000"/>
<rect x="570" y="384" width="5" height="11" fill="#000"/>
<rect x="580" y="343" width="1" height="62" fill="#000"/>
<rect x="578" y="375" width="5" height="19" fill="#000"/>
<rect x="579" y="376" width="3" height="17" fill="#fff"/>
<rect x="588" y="356" width="1" height="41" fill="#000"/>
<rect x="586" y="362" width="5" height="13" fill="#000"/>
<rect x="587" y="363" width="3" height="11" fill="#fff"/>
<rect x="596" y="358" width="1" height="35" fill="#000"/>
<rect x="594" y="362" width="5" height="19" fill="#000"/>
<rect x="604" y="361" width="1" height="21" fill="#000"/>
<rect x="602" y="377" width="5" height="5" fill="#000"/>
<rect x="603" y="378" width="3" height="3" fill="#fff"/>
<rect x="612" y="367" width="1" height="14" fill="#000"/>
<rect x="610" y="371" width="5" height="8" fill="#000"/>
<rect x="611" y="372" width="3" height="6" fill="#fff"/>
<rect x="620" y="346" width="1" height="22" fill="#000"/>
<rect x="618" y="358" width="5" height="6" fill="#000"/>
<rect x="619" y="359" width="3" height="4" fill="#fff"/>
<rect x="628" y="310" width="1" height="57" fill="#000"/>
<rect x="626" y="317" width="5" height="42" fill="#000"/>
<rect x="627" y="318" width="3" height="40" fill="#fff"/>
<rect x="636" y="291" width="1" height="39" fill="#000"/>
<rect x="634" y="297" width="5" height="23" fill="#000"/>
<rect x="635" y="298" width="3" height="21" fill="#fff"/>
<rect x="644" y="285" width="1" height="18" fill="#000"/>
<rect x="642" y="289" width="5" height="11" fill="#000"/>
<rect x="643" y="290" width="3" height="9" fill="#fff"/>
<rect x="652" y="288" width="1" height="11" fill="#000"/>
<rect x="650" y="288" width="5" height="3" fill="#000"/>
<rect x="660" y="275" width="1" height="21" fill="#000"/>
<rect x="658" y="275" width="5" height="14" fill="#000"/>
<rect x="659" y="276" width="3" height="12" fill="#fff"/>
<rect x="668" y="260" width="1" height="22" fill="#000"/>
<rect x="666" y="264" width="5" height="18" fill="#000"/>
<rect x="667" y="265" width="3" height="16" fill="#fff"/>
<rect x="676" y="245" width="1" height="44" fill="#000"/>
<rect x="674" y="245" width="5" height="24" fill="#000"/>
<rect x="675" y="246" width="3" height="22" fill="#fff"/>
<rect x="684" y="217" width="1" height="42" fill="#000"/>
<rect x="682" y="225" width="5" height="21" fill="#000"/>
<rect x="683" y="226" width="3" height="19" fill="#fff"/>
<rect x="692" y="204" width="1" height="29" fill="#000"/>
<rect x="690" y="223" width="5" height="3" fill="#000"/>
<rect x="691" y="224" width="3" height="1" fill="#fff"/>
<rect x="700" y="208" width="1" height="18" fill="#000"/>
<rect x="698" y="216" width="5" height="10" fill="#000"/>
<rect x="699" y="217" width="3" height="8" fill="#fff"/>
<rect x="708" y="213" width="1" height="11" fill="#000"/>
<rect x="706" y="216" width="5" height="1" fill="#000"/>
<rect x="716" y="216" width="1" height="15" fill="#000"/>
<rect x="714" y="217" width="5" height="12" fill="#000"/>
<rect x="724" y="221" width="1" height="38" fill="#000"/>
<rect x="722" y="228" width="5" height="19" fill="#000"/>
<rect x="732" y="237" width="1" height="31" fill="#000"/>
<rect x="730" y="244" width="5" height="14" fill="#000"/>
<rect x="740" y="242" width="1" height="26" fill="#000"/>
<rect x="738" y="244" width="5" height="13" fill="#000"/>
<rect x="739" y="245" width="3" height="11" fill="#fff"/>
<rect x="748" y="230" width="1" height="17" fill="#000"/>
<rect x="746" y="233" width="5" height="14" fill="#000"/>
<rect x="747" y="234" width="3" height="12" fill="#fff"/>
<rect x="756" y="227" width="1" height="9" fill="#000"/>
<rect x="754" y="233" width="5" height="1" fill="#000"/>
<rect x="764" y="225" width="1" height="16" fill="#000"/>
<rect x="762" y="229" width="5" height="11" fill="#000"/>
<rect x="763" y="230" width="3" height="9" fill="#fff"/>
<rect x="772" y="201" width="1" height="33" fill="#000"/>
<rect x="770" y="204" width="5" height="28" fill="#000"/>
<rect x="771" y="205" width="3" height="26" fill="#fff"/>
<rect x="780" y="194" width="1" height="25" fill="#000"/>
<rect x="778" y="195" width="5" height="11" fill="#000"/>
<rect x="779" y="196" width="3" height="9" fill="#fff"/>
<rect x="788" y="188" width="1" height="19" fill="#000"/>
<rect x="786" y="189" width="5" height="7" fill="#000"/>
<rect x="787" y="190" width="3" height="5" fill="#fff"/>
<rect x="796" y="181" width="1" height="13" fill="#000"/>
<rect x="794" y="188" width="5" height="1" fill="#000"/>
<rect x="804" y="180" width="1" height="12" fill="#000"/>
<rect x="802" y="186" width="5" height="3" fill="#000"/>
<rect x="803" y="187" width="3" height="1" fill="#fff"/>
<rect x="812" y="172" width="1" height="19" fill="#000"/>
<rect x="810" y="180" width="5" height="11" fill="#000"/>
<rect x="811" y="181" width="3" height="9" fill="#fff"/>
<rect x="820" y="167" width="1" height="46" fill="#000"/>
<rect x="818" y="180" width="5" height="17" fill="#000"/>
<rect x="828" y="191" width="1" height="22" fill="#000"/>
<rect x="826" y="194" width="5" height="4" fill="#000"/>
<rect x="836" y="189" width="1" height="21" fill="#000"/>
<rect x="834" y="191" width="5" height="5" fill="#000"/>
<rect x="835" y="192" width="3" height="3" fill="#fff"/>
<rect x="844" y="190" width="1" height="16" fill="#000"/>
<rect x="842" y="190" width="5" height="7" fill="#000"/>
<rect x="852" y="193" width="1" height="10" fill="#000"/>
<rect x="850" y="195" width="5" height="8" fill="#000"/>
<rect x="860" y="202" width="1" height="25" fill="#000"/>
<rect x="858" y="202" width="5" height="25" fill="#000"/>
<rect x="868" y="208" width="1" height="30" fill="#000"/>
<rect x="866" y="228" width="5" height="7" fill="#000"/>
<rect x="876" y="230" width="1" height="96" fill="#000"/>
<rect x="874" y="232" width="5" height="83" fill="#000"/>
<rect x="884" y="291" width="1" height="46" fill="#000"/>
<rect x="882" y="294" width="5" height="20" fill="#000"/>
<rect x="883" y="295" width="3" height="18" fill="#fff"/>
<rect x="892" y="293" width="1" height="38" fill="#000"/>
<rect x="890" y="295" width="5" height="15" fill="#000"/>
<rect x="900" y="297" width="1" height="25" fill="#000"/>
<rect x="898" y="309" width="5" height="11" fill="#000"/>
<rect x="908" y="303" width="1" height="29" fill="#000"/>
<rect x="906" y="305" width="5" height="27" fill="#000"/>
<rect x="907" y="306" width="3" height="25" fill="#fff"/>
<rect x="916" y="245" width="1" height="74" fill="#000"/>
<rect x="914" y="260" width="5" height="49" fill="#000"/>
<rect x="915" y="261" width="3" height="47" fill="#fff"/>
<rect x="924" y="253" width="1" height="34" fill="#000"/>
<rect x="922" y="257" width="5" height="4" fill="#000"/>
<rect x="923" y="258" width="3" height="2" fill="#fff"/>
<rect x="932" y="256" width="1" height="16" fill="#000"/>
<rect x="930" y="257" width="5" height="11" fill="#000"/>
<rect x="940" y="258" width="1" height="38" fill="#000"/>
<rect x="938" y="266" width="5" height="20" fill="#000"/>
<rect x="948" y="283" width="1" height="13" fill="#000"/>
<rect x="946" y="284" width="5" height="6" fill="#000"/>
<rect x="956" y="308" width="1" height="38" fill="#000"/>
<rect x="954" y="316" width="5" height="13" fill="#000"/>
<rect x="964" y="297" width="1" height="34" fill="#000"/>
<rect x="962" y="313" width="5" height="13" fill="#000"/>
<rect x="963" y="314" width="3" height="11" fill="#fff"/>
<rect x="972" y="287" width="1" height="33" fill="#000"/>
<rect x="970" y="296" width="5" height="19" fill="#000"/>
<rect x="971" y="297" width="3" height="17" fill="#fff"/>
<rect x="980" y="287" width="1" height="24" fill="#000"/>
<rect x="978" y="290" width="5" height="7" fill="#000"/>
<rect x="979" y="291" width="3" height="5" fill="#fff"/>
<rect x="988" y="263" width="1" height="30" fill="#000"/>
<rect x="986" y="268" width="5" height="23" fill="#000"/>
<rect x="987" y="269" width="3" height="21" fill="#fff"/>
<rect x="996" y="268" width="1" height="13" fill="#000"/>
<rect x="994" y="269" width="5" height="1" fill="#000"/>
<rect x="1004" y="251" width="1" height="28" fill="#000"/>
<rect x="1002" y="252" width="5" height="27" fill="#000"/>
<rect x="1003" y="253" width="3" height="25" fill="#fff"/>
<rect x="1012" y="218" width="1" height="44" fill="#000"/>
<rect x="1010" y="223" width="5" height="28" fill="#000"/>
<rect x="1011" y="224" width="3" height="26" fill="#fff"/>
<rect x="1020" y="212" width="1" height="19" fill="#000"/>
<rect x="1018" y="216" width="5" height="9" fill="#000"/>
<rect x="1019" y="217" width="3" height="7" fill="#fff"/>
<rect x="1028" y="205" width="1" height="16" fill="#000"/>
<rect x="1026" y="212" width="5" height="7" fill="#000"/>
<rect x="1027" y="213" width="3" height="5" fill="#fff"/>
<rect x="1036" y="211" width="1" height="44" fill="#000"/>
<rect x="1034" y="211" width="5" height="36" fill="#000"/>
<rect x="1044" y="238" width="1" height="14" fill="#000"/>
<rect x="1042" y="244" width="5" height="8" fill="#000"/>
<rect x="1052" y="230" width="1" height="19" fill="#000"/>
<rect x="1050" y="239" width="5" height="1" fill="#000"/>
<rect x="1060" y="223" width="1" height="45" fill="#000"/>
<rect x="1058" y="238" width="5" height="20" fill="#000"/>
<rect x="1068" y="231" width="1" height="58" fill="#000"/>
<rect x="1066" y="255" width="5" height="32" fill="#000"/>
<rect x="1076" y="269" width="1" height="27" fill="#000"/>
<rect x="1074" y="281" width="5" height="5" fill="#000"/>
<rect x="1075" y="282" width="3" height="3" fill="#fff"/>
<rect x="1084" y="264" width="1" height="23" fill="#000"/>
<rect x="1082" y="271" width="5" height="12" fill="#000"/>
<rect x="1083" y="272" width="3" height="10" fill="#fff"/>
<rect x="1092" y="270" width="1" height="34" fill="#000"/>
<rect x="1090" y="271" width="5" height="29" fill="#000"/>
<rect x="1100" y="274" width="1" height="21" fill="#000"/>
<rect x="1098" y="279" width="5" height="15" fill="#000"/>
<rect x="1099" y="280" width="3" height="13" fill="#fff"/>
<rect x="1108" y="261" width="1" height="35" fill="#000"/>
<rect x="1106" y="276" width="5" height="4" fill="#000"/>
<rect x="1107" y="277" width="3" height="2" fill="#fff"/>
<rect x="1116" y="264" width="1" height="24" fill="#000"/>
<rect x="1114" y="272" width="5" height="4" fill="#000"/>
<rect x="1115" y="273" width="3" height="2" fill="#fff"/>
<rect x="1124" y="267" width="1" height="22" fill="#000"/>
<rect x="1122" y="269" width="5" height="4" fill="#000"/>
<rect x="1123" y="270" width="3" height="2" fill="#fff"/>
<rect x="1132" y="264" width="1" height="13" fill="#000"/>
<rect x="1130" y="269" width="5" height="5" fill="#000"/>
<rect x="1140" y="256" width="1" height="21" fill="#000"/>
<rect x="1138" y="264" width="5" height="10" fill="#000"/>
<rect x="1139" y="265" width="3" height="8" fill="#fff"/>
<rect x="1148" y="271" width="1" height="13" fill="#000"/>
<rect x="1146" y="272" width="5" height="5" fill="#000"/>
<rect x="1147" y="273" width="3" height="3" fill="#fff"/>
<rect x="1156" y="240" width="1" height="90" fill="#000"/>
<rect x="1154" y="261" width="5" height="13" fill="#000"/>
<rect x="1155" y="262" width="3" height="11" fill="#fff"/>
<rect x="1164" y="255" width="1" height="43" fill="#000"/>
<rect x="1162" y="260" width="5" height="31" fill="#000"/>
<rect x="1172" y="262" width="1" height="30" fill="#000"/>
<rect x="1170" y="267" width="5" height="23" fill="#000"/>
<rect x="1171" y="268" width="3" height="21" fill="#fff"/>
<rect x="1180" y="250" width="1" height="21" fill="#000"/>
<rect x="1178" y="255" width="5" height="13" fill="#000"/>
<rect x="1179" y="256" width="3" height="11" fill="#fff"/>
<rect x="1188" y="236" width="1" height="27" fill="#000"/>
<rect x="1186" y="238" width="5" height="17" fill="#000"/>
<rect x="1187" y="239" width="3" height="15" fill="#fff"/>
<rect x="1196" y="170" width="1" height="16" fill="#000"/>
<rect x="1194" y="173" width="5" height="9" fill="#000"/>
<rect x="1195" y="174" width="3" height="7" fill="#fff"/>
<rect x="1204" y="143" width="1" height="41" fill="#000"/>
<rect x="1202" y="154" width="5" height="17" fill="#000"/>
<rect x="1203" y="155" width="3" height="15" fill="#fff"/>
<rect x="1212" y="139" width="1" height="23" fill="#000"/>
<rect x="1210" y="151" width="5" height="4" fill="#000"/>
<rect x="1211" y="152" width="3" height="2" fill="#fff"/>
<rect x="1220" y="148" width="1" height="20" fill="#000"/>
<rect x="1218" y="150" width="5" height="17" fill="#000"/>
<rect x="1228" y="151" width="1" height="33" fill="#000"/>
<rect x="1226" y="165" width="5" height="8" fill="#000"/>
<rect x="1236" y="153" width="1" height="23" fill="#000"/>
<rect x="1234" y="158" width="5" height="15" fill="#000"/>
<rect x="1235" y="159" width="3" height="13" fill="#fff"/>
<rect x="1244" y="156" width="1" height="17" fill="#000"/>
<rect x="1242" y="167" width="5" height="1" fill="#000"/>
<rect x="1252" y="150" width="1" height="25" fill="#000"/>
<rect x="1250" y="163" width="5" height="3" fill="#000"/>
<rect x="1251" y="164" width="3" height="1" fill="#fff"/>
<rect x="1260" y="160" width="1" height="22" fill="#000"/>
<rect x="1258" y="164" width="5" height="7" fill="#000"/>
<rect x="1268" y="161" width="1" height="12" fill="#000"/>
<rect x="1266" y="164" width="5" height="6" fill="#000"/>
<rect x="1267" y="165" width="3" height="4" fill="#fff"/>
<rect x="1276" y="158" width="1" height="13" fill="#000"/>
<rect x="1274" y="164" width="5" height="1" fill="#000"/>
<rect x="1284" y="159" width="1" height="9" fill="#000"/>
<rect x="1282" y="163" width="5" height="1" fill="#000"/>
<rect x="1292" y="161" width="1" height="14" fill="#000"/>
<rect x="1290" y="162" width="5" height="7" fill="#000"/>
<rect x="1300" y="163" width="1" height="19" fill="#000"/>
<rect x="1298" y="174" width="5" height="1" fill="#000"/>
<rect x="1308" y="165" width="1" height="14" fill="#000"/>
<rect x="1306" y="170" width="5" height="7" fill="#000"/>
<rect x="1307" y="171" width="3" height="5" fill="#fff"/>
<rect x="1316" y="161" width="1" height="15" fill="#000"/>
<rect x="1314" y="162" width="5" height="11" fill="#000"/>
<rect x="1315" y="163" width="3" height="9" fill="#fff"/>
<rect x="1324" y="126" width="1" height="50" fill="#000"/>
<rect x="1322" y="130" width="5" height="34" fill="#000"/>
<rect x="1323" y="131" width="3" height="32" fill="#fff"/>
<rect x="1332" y="122" width="1" height="15" fill="#000"/>
<rect x="1330" y="124" width="5" height="7" fill="#000"/>
<rect x="1331" y="125" width="3" height="5" fill="#fff"/>
<rect x="1340" y="94" width="1" height="25" fill="#000"/>
<rect x="1338" y="97" width="5" height="19" fill="#000"/>
<rect x="1339" y="98" width="3" height="17" fill="#fff"/>
<rect x="1348" y="100" width="1" height="33" fill="#000"/>
<rect x="1346" y="100" width="5" height="31" fill="#000"/>
<rect x="1356" y="108" width="1" height="25" fill="#000"/>
<rect x="1354" y="125" width="5" height="4" fill="#000"/>
<rect x="1355" y="126" width="3" height="2" fill="#fff"/>
<rect x="1364" y="125" width="1" height="16" fill="#000"/>
<rect x="1362" y="125" width="5" height="13" fill="#000"/>
<rect x="1372" y="133" width="1" height="20" fill="#000"/>
<rect x="1370" y="134" width="5" height="5" fill="#000"/>
<rect x="1371" y="135" width="3" height="3" fill="#fff"/>
<rect x="1380" y="122" width="1" height="15" fill="#000"/>
<rect x="1378" y="128" width="5" height="6" fill="#000"/>
<rect x="1379" y="129" width="3" height="4" fill="#fff"/>
</g>
<rect x="1077.5" y="130.5" width="61.0" height="18.0" fill="#fff" stroke="#ff0000" stroke-width="1" shape-rendering="crispEdges"/>
<text x="1079.5" y="146" font-size="16" fill="#ff0000" text-anchor="start" font-weight="normal" textLength="57.5" lengthAdjust="spacingAndGlyphs">29655.5</text>
<rect x="1139" y="139" width="10" height="1" fill="#ff0000" shape-rendering="crispEdges"/>
<rect x="885.5" y="336.5" width="61.0" height="18.0" fill="#fff" stroke="#ff0000" stroke-width="1" shape-rendering="crispEdges"/>
<text x="887.5" y="352" font-size="16" fill="#ff0000" text-anchor="start" font-weight="normal" textLength="57.5" lengthAdjust="spacingAndGlyphs">28354.9</text>
<rect x="947" y="345" width="10" height="1" fill="#ff0000" shape-rendering="crispEdges"/>
<rect x="1085.5" y="320.5" width="61.0" height="18.0" fill="#fff" stroke="#ff0000" stroke-width="1" shape-rendering="crispEdges"/>
<text x="1087.5" y="336" font-size="16" fill="#ff0000" text-anchor="start" font-weight="normal" textLength="57.5" lengthAdjust="spacingAndGlyphs">28453.5</text>
<rect x="1147" y="329" width="10" height="1" fill="#ff0000" shape-rendering="crispEdges"/>
<rect x="1268.5" y="84.5" width="62.0" height="18.0" fill="#fff" stroke="#ff0000" stroke-width="1" shape-rendering="crispEdges"/>
<text x="1270.5" y="100" font-size="16" fill="#ff0000" text-anchor="start" font-weight="normal" textLength="57.5" lengthAdjust="spacingAndGlyphs">29946.5</text>
<rect x="1331" y="92" width="10" height="1" fill="#ff0000" shape-rendering="crispEdges"/>
<rect x="1340" y="92" width="1" height="3" fill="#ff0000" shape-rendering="crispEdges"/>
<rect x="1264" y="136" width="167" height="6" fill="#00ff00" shape-rendering="crispEdges"/>
<line x1="1164.0" y1="297.0" x2="1205.3" y2="163.6" stroke="#ff0000" stroke-width="3.2" stroke-linecap="round"/>
<polygon points="1208.0,155.0 1210.1,165.1 1200.6,162.1" fill="#ff0000"/>
<line x1="1208.0" y1="156.0" x2="1310.1" y2="172.6" stroke="#ff0000" stroke-width="3.2" stroke-linecap="round"/>
<polygon points="1319.0,174.0 1309.3,177.5 1310.9,167.6" fill="#ff0000"/>
<line x1="1319.0" y1="174.0" x2="1344.7" y2="108.4" stroke="#ff0000" stroke-width="3.2" stroke-linecap="round"/>
<polygon points="1348.0,100.0 1349.4,110.2 1340.1,106.6" fill="#ff0000"/>
<line x1="1348.0" y1="100.0" x2="1368.1" y2="141.9" stroke="#ff0000" stroke-width="3.2" stroke-linecap="round"/>
<polygon points="1372.0,150.0 1363.6,144.0 1372.6,139.7" fill="#ff0000"/>
<line x1="1372.0" y1="150.0" x2="1418.6" y2="104.3" stroke="#ff0000" stroke-width="3.2" stroke-linecap="round"/>
<polygon points="1425.0,98.0 1422.1,107.9 1415.1,100.7" fill="#ff0000"/>
<text x="3" y="35" font-size="10" fill="#000" text-anchor="start" font-weight="normal" textLength="197" lengthAdjust="spacingAndGlyphs">JPN225-,H4&#160;&#160;29695.0 29767.5 29662.5 29732.5</text>
</g>
<defs>
<linearGradient id="gtop" x1="0" y1="0" x2="0" y2="1"><stop offset="0" stop-color="#f75252"/><stop offset="1" stop-color="#dc2c2c"/></linearGradient>
<linearGradient id="gprice" x1="0" y1="0" x2="0" y2="1"><stop offset="0" stop-color="#de3030"/><stop offset="1" stop-color="#b00606"/></linearGradient>
<linearGradient id="gbtn" x1="0" y1="0" x2="0" y2="1"><stop offset="0" stop-color="#f2f2f2"/><stop offset="0.45" stop-color="#e6e6e6"/><stop offset="0.5" stop-color="#d6d6d6"/><stop offset="1" stop-color="#cfcfcf"/></linearGradient>
</defs>
<g shape-rendering="crispEdges">
<rect x="0" y="40" width="211" height="62" fill="#fff"/>
<rect x="0" y="43" width="43" height="25" fill="url(#gtop)"/>
<rect x="0" y="43" width="43" height="1" fill="#c81818"/>
<rect x="42" y="43" width="1" height="25" fill="#c01010"/>
<rect x="0" y="66" width="39" height="1" fill="#8a0c0c"/>
<rect x="0" y="67" width="39" height="1" fill="#e85a5a"/>
<rect x="158" y="43" width="52" height="25" fill="url(#gtop)"/>
<rect x="158" y="43" width="52" height="1" fill="#c81818"/>
<rect x="158" y="43" width="1" height="25" fill="#c01010"/>
<rect x="209" y="43" width="1" height="25" fill="#c01010"/>
<rect x="162" y="66" width="44" height="1" fill="#8a0c0c"/>
<rect x="162" y="67" width="44" height="1" fill="#f07070"/>
<rect x="0" y="67" width="100" height="33" fill="url(#gprice)"/>
<rect x="102" y="67" width="108" height="33" fill="url(#gprice)"/>
<rect x="0" y="68" width="43" height="0" fill="#dc2c2c"/>
<rect x="45" y="43" width="111" height="22" fill="#a4a6ad"/>
<rect x="46" y="44" width="109" height="20" fill="#ffffff"/>
<rect x="46" y="44" width="20" height="20" fill="url(#gbtn)"/>
<rect x="66" y="44" width="1" height="20" fill="#b4b6bc"/>
<rect x="135" y="44" width="20" height="20" fill="url(#gbtn)"/>
<rect x="134" y="44" width="1" height="20" fill="#b4b6bc"/>
</g>
<polygon points="52.5,52 59.5,52 56,56" fill="#5060b8"/>
<polygon points="141.5,57 148.5,57 145,53" fill="#5060b8"/>
<text x="3.5" y="59" font-size="12.5" fill="#fff4f4" text-anchor="start" font-weight="normal" textLength="26" lengthAdjust="spacingAndGlyphs">SELL</text>
<text x="172" y="59" font-size="12.5" fill="#fff4f4" text-anchor="start" font-weight="normal" textLength="23" lengthAdjust="spacingAndGlyphs">BUY</text>
<text x="130.5" y="58" font-size="12.5" fill="#000" text-anchor="end" font-weight="normal" textLength="23" lengthAdjust="spacingAndGlyphs">1.00</text>
<text x="7" y="95" font-size="12.5" fill="#fff" text-anchor="start" font-weight="bold" textLength="35" lengthAdjust="spacingAndGlyphs">29731</text>
<rect x="46.5" y="91" width="4" height="4" fill="#fff"/>
<text x="52" y="95" font-size="33" fill="#fff" text-anchor="start" font-weight="normal" textLength="17" lengthAdjust="spacingAndGlyphs">0</text>
<text x="117" y="95" font-size="12.5" fill="#fff" text-anchor="start" font-weight="bold" textLength="35" lengthAdjust="spacingAndGlyphs">29754</text>
<rect x="157.5" y="91" width="4" height="4" fill="#fff"/>
<text x="163" y="95" font-size="33" fill="#fff" text-anchor="start" font-weight="normal" textLength="17" lengthAdjust="spacingAndGlyphs">0</text>
<g shape-rendering="crispEdges">
<rect x="1648" y="45" width="2" height="1" fill="#000"/>
<rect x="1648" y="111" width="2" height="1" fill="#000"/>
<rect x="1648" y="144" width="2" height="1" fill="#000"/>
<rect x="1648" y="177" width="2" height="1" fill="#000"/>
<rect x="1648" y="210" width="2" height="1" fill="#000"/>
<rect x="1648" y="243" width="2" height="1" fill="#000"/>
<rect x="1648" y="276" width="2" height="1" fill="#000"/>
<rect x="1648" y="309" width="2" height="1" fill="#000"/>
<rect x="1648" y="342" width="2" height="1" fill="#000"/>
<rect x="1648" y="375" width="2" height="1" fill="#000"/>
<rect x="1648" y="408" width="2" height="1" fill="#000"/>
<rect x="1648" y="441" width="2" height="1" fill="#000"/>
<rect x="1648" y="474" width="2" height="1" fill="#000"/>
<rect x="1648" y="507" width="2" height="1" fill="#000"/>
<rect x="1648" y="540" width="2" height="1" fill="#000"/>
<rect x="1648" y="573" width="2" height="1" fill="#000"/>
</g>
<text x="1653" y="49" font-size="10" fill="#000" text-anchor="start" font-weight="normal" textLength="33" lengthAdjust="spacingAndGlyphs">30251.0</text>
<text x="1653" y="115" font-size="10" fill="#000" text-anchor="start" font-weight="normal" textLength="33" lengthAdjust="spacingAndGlyphs">29837.0</text>
<text x="1653" y="148" font-size="10" fill="#000" text-anchor="start" font-weight="normal" textLength="33" lengthAdjust="spacingAndGlyphs">29627.0</text>
<text x="1653" y="181" font-size="10" fill="#000" text-anchor="start" font-weight="normal" textLength="33" lengthAdjust="spacingAndGlyphs">29417.0</text>
<text x="1653" y="214" font-size="10" fill="#000" text-anchor="start" font-weight="normal" textLength="33" lengthAdjust="spacingAndGlyphs">29207.0</text>
<text x="1653" y="247" font-size="10" fill="#000" text-anchor="start" font-weight="normal" textLength="33" lengthAdjust="spacingAndGlyphs">28997.0</text>
<text x="1653" y="280" font-size="10" fill="#000" text-anchor="start" font-weight="normal" textLength="33" lengthAdjust="spacingAndGlyphs">28787.0</text>
<text x="1653" y="313" font-size="10" fill="#000" text-anchor="start" font-weight="normal" textLength="33" lengthAdjust="spacingAndGlyphs">28577.0</text>
<text x="1653" y="346" font-size="10" fill="#000" text-anchor="start" font-weight="normal" textLength="33" lengthAdjust="spacingAndGlyphs">28373.0</text>
<text x="1653" y="379" font-size="10" fill="#000" text-anchor="start" font-weight="normal" textLength="33" lengthAdjust="spacingAndGlyphs">28163.0</text>
<text x="1653" y="412" font-size="10" fill="#000" text-anchor="start" font-weight="normal" textLength="33" lengthAdjust="spacingAndGlyphs">27953.0</text>
<text x="1653" y="445" font-size="10" fill="#000" text-anchor="start" font-weight="normal" textLength="33" lengthAdjust="spacingAndGlyphs">27743.0</text>
<text x="1653" y="478" font-size="10" fill="#000" text-anchor="start" font-weight="normal" textLength="33" lengthAdjust="spacingAndGlyphs">27533.0</text>
<text x="1653" y="511" font-size="10" fill="#000" text-anchor="start" font-weight="normal" textLength="33" lengthAdjust="spacingAndGlyphs">27323.0</text>
<text x="1653" y="544" font-size="10" fill="#000" text-anchor="start" font-weight="normal" textLength="33" lengthAdjust="spacingAndGlyphs">27113.0</text>
<text x="1653" y="577" font-size="10" fill="#000" text-anchor="start" font-weight="normal" textLength="33" lengthAdjust="spacingAndGlyphs">26909.0</text>
<rect x="1649" y="73" width="41" height="11" fill="#ff0000" shape-rendering="crispEdges"/>
<text x="1653" y="82" font-size="10" fill="#fff" text-anchor="start" font-weight="normal" textLength="33" lengthAdjust="spacingAndGlyphs">30035.1</text>
<rect x="1649" y="95" width="41" height="11" fill="#ff0000" shape-rendering="crispEdges"/>
<text x="1653" y="104" font-size="10" fill="#fff" text-anchor="start" font-weight="normal" textLength="33" lengthAdjust="spacingAndGlyphs">29895.9</text>
<rect x="1649" y="122" width="41" height="11" fill="#000000" shape-rendering="crispEdges"/>
<text x="1653" y="131" font-size="10" fill="#fff" text-anchor="start" font-weight="normal" textLength="33" lengthAdjust="spacingAndGlyphs">29732.5</text>
<rect x="1649" y="133" width="41" height="11" fill="#32cd32" shape-rendering="crispEdges"/>
<text x="1653" y="142" font-size="10" fill="#fff" text-anchor="start" font-weight="normal" textLength="33" lengthAdjust="spacingAndGlyphs">29655.5</text>
<rect x="1649" y="158" width="41" height="11" fill="#0000ff" shape-rendering="crispEdges"/>
<text x="1653" y="167" font-size="10" fill="#fff" text-anchor="start" font-weight="normal" textLength="33" lengthAdjust="spacingAndGlyphs">29497.3</text>
<rect x="1649" y="183" width="41" height="11" fill="#0000ff" shape-rendering="crispEdges"/>
<text x="1653" y="192" font-size="10" fill="#fff" text-anchor="start" font-weight="normal" textLength="33" lengthAdjust="spacingAndGlyphs">29339.2</text>
<polygon points="1392,24 1401,24 1396.5,28.5" fill="#a0a0a0"/>
<g clip-path="url(#cmacd)">
<g shape-rendering="crispEdges">
<rect x="4" y="630" width="1" height="9" fill="#c0c0c0"/>
<rect x="12" y="630" width="1" height="9" fill="#c0c0c0"/>
<rect x="20" y="630" width="1" height="9" fill="#c0c0c0"/>
<rect x="28" y="629" width="1" height="10" fill="#c0c0c0"/>
<rect x="36" y="628" width="1" height="11" fill="#c0c0c0"/>
<rect x="44" y="629" width="1" height="10" fill="#c0c0c0"/>
<rect x="52" y="634" width="1" height="5" fill="#c0c0c0"/>
<rect x="60" y="638" width="1" height="1" fill="#c0c0c0"/>
<rect x="68" y="639" width="1" height="5" fill="#c0c0c0"/>
<rect x="76" y="639" width="1" height="10" fill="#c0c0c0"/>
<rect x="84" y="639" width="1" height="15" fill="#c0c0c0"/>
<rect x="92" y="639" width="1" height="18" fill="#c0c0c0"/>
<rect x="100" y="639" width="1" height="23" fill="#c0c0c0"/>
<rect x="108" y="639" width="1" height="20" fill="#c0c0c0"/>
<rect x="116" y="639" width="1" height="17" fill="#c0c0c0"/>
<rect x="124" y="639" width="1" height="15" fill="#c0c0c0"/>
<rect x="132" y="639" width="1" height="14" fill="#c0c0c0"/>
<rect x="140" y="639" width="1" height="17" fill="#c0c0c0"/>
<rect x="148" y="639" width="1" height="18" fill="#c0c0c0"/>
<rect x="156" y="639" width="1" height="18" fill="#c0c0c0"/>
<rect x="164" y="639" width="1" height="21" fill="#c0c0c0"/>
<rect x="172" y="639" width="1" height="21" fill="#c0c0c0"/>
<rect x="180" y="639" width="1" height="26" fill="#c0c0c0"/>
<rect x="188" y="639" width="1" height="29" fill="#c0c0c0"/>
<rect x="196" y="639" width="1" height="41" fill="#c0c0c0"/>
<rect x="204" y="639" width="1" height="48" fill="#c0c0c0"/>
<rect x="212" y="639" width="1" height="54" fill="#c0c0c0"/>
<rect x="220" y="639" width="1" height="52" fill="#c0c0c0"/>
<rect x="228" y="639" width="1" height="50" fill="#c0c0c0"/>
<rect x="236" y="639" width="1" height="48" fill="#c0c0c0"/>
<rect x="244" y="639" width="1" height="58" fill="#c0c0c0"/>
<rect x="252" y="639" width="1" height="65" fill="#c0c0c0"/>
<rect x="260" y="639" width="1" height="81" fill="#c0c0c0"/>
<rect x="268" y="639" width="1" height="90" fill="#c0c0c0"/>
<rect x="276" y="639" width="1" height="97" fill="#c0c0c0"/>
<rect x="284" y="639" width="1" height="100" fill="#c0c0c0"/>
<rect x="292" y="639" width="1" height="101" fill="#c0c0c0"/>
<rect x="300" y="639" width="1" height="99" fill="#c0c0c0"/>
<rect x="308" y="639" width="1" height="93" fill="#c0c0c0"/>
<rect x="316" y="639" width="1" height="85" fill="#c0c0c0"/>
<rect x="324" y="639" width="1" height="81" fill="#c0c0c0"/>
<rect x="332" y="639" width="1" height="79" fill="#c0c0c0"/>
<rect x="340" y="639" width="1" height="85" fill="#c0c0c0"/>
<rect x="348" y="639" width="1" height="95" fill="#c0c0c0"/>
<rect x="356" y="639" width="1" height="97" fill="#c0c0c0"/>
<rect x="364" y="639" width="1" height="93" fill="#c0c0c0"/>
<rect x="372" y="639" width="1" height="87" fill="#c0c0c0"/>
<rect x="380" y="639" width="1" height="84" fill="#c0c0c0"/>
<rect x="388" y="639" width="1" height="77" fill="#c0c0c0"/>
<rect x="396" y="639" width="1" height="70" fill="#c0c0c0"/>
<rect x="404" y="639" width="1" height="61" fill="#c0c0c0"/>
<rect x="412" y="639" width="1" height="54" fill="#c0c0c0"/>
<rect x="420" y="639" width="1" height="46" fill="#c0c0c0"/>
<rect x="428" y="639" width="1" height="39" fill="#c0c0c0"/>
<rect x="436" y="639" width="1" height="32" fill="#c0c0c0"/>
<rect x="444" y="639" width="1" height="28" fill="#c0c0c0"/>
<rect x="452" y="639" width="1" height="23" fill="#c0c0c0"/>
<rect x="460" y="639" width="1" height="20" fill="#c0c0c0"/>
<rect x="468" y="639" width="1" height="18" fill="#c0c0c0"/>
<rect x="476" y="639" width="1" height="18" fill="#c0c0c0"/>
<rect x="484" y="639" width="1" height="8" fill="#c0c0c0"/>
<rect x="492" y="639" width="1" height="1" fill="#c0c0c0"/>
<rect x="500" y="631" width="1" height="8" fill="#c0c0c0"/>
<rect x="508" y="626" width="1" height="13" fill="#c0c0c0"/>
<rect x="516" y="624" width="1" height="15" fill="#c0c0c0"/>
<rect x="524" y="624" width="1" height="15" fill="#c0c0c0"/>
<rect x="532" y="627" width="1" height="12" fill="#c0c0c0"/>
<rect x="540" y="629" width="1" height="10" fill="#c0c0c0"/>
<rect x="548" y="631" width="1" height="8" fill="#c0c0c0"/>
<rect x="556" y="632" width="1" height="7" fill="#c0c0c0"/>
<rect x="564" y="636" width="1" height="3" fill="#c0c0c0"/>
<rect x="572" y="638" width="1" height="1" fill="#c0c0c0"/>
<rect x="580" y="638" width="1" height="1" fill="#c0c0c0"/>
<rect x="588" y="638" width="1" height="1" fill="#c0c0c0"/>
<rect x="596" y="639" width="1" height="2" fill="#c0c0c0"/>
<rect x="604" y="639" width="1" height="3" fill="#c0c0c0"/>
<rect x="612" y="639" width="1" height="3" fill="#c0c0c0"/>
<rect x="620" y="639" width="1" height="1" fill="#c0c0c0"/>
<rect x="628" y="636" width="1" height="3" fill="#c0c0c0"/>
<rect x="636" y="629" width="1" height="10" fill="#c0c0c0"/>
<rect x="644" y="623" width="1" height="16" fill="#c0c0c0"/>
<rect x="652" y="619" width="1" height="20" fill="#c0c0c0"/>
<rect x="660" y="614" width="1" height="25" fill="#c0c0c0"/>
<rect x="668" y="610" width="1" height="29" fill="#c0c0c0"/>
<rect x="676" y="604" width="1" height="35" fill="#c0c0c0"/>
<rect x="684" y="598" width="1" height="41" fill="#c0c0c0"/>
<rect x="692" y="594" width="1" height="45" fill="#c0c0c0"/>
<rect x="700" y="590" width="1" height="49" fill="#c0c0c0"/>
<rect x="708" y="588" width="1" height="51" fill="#c0c0c0"/>
<rect x="716" y="588" width="1" height="51" fill="#c0c0c0"/>
<rect x="724" y="591" width="1" height="48" fill="#c0c0c0"/>
<rect x="732" y="594" width="1" height="45" fill="#c0c0c0"/>
<rect x="740" y="596" width="1" height="43" fill="#c0c0c0"/>
<rect x="748" y="597" width="1" height="42" fill="#c0c0c0"/>
<rect x="756" y="599" width="1" height="40" fill="#c0c0c0"/>
<rect x="764" y="600" width="1" height="39" fill="#c0c0c0"/>
<rect x="772" y="598" width="1" height="41" fill="#c0c0c0"/>
<rect x="780" y="597" width="1" height="42" fill="#c0c0c0"/>
<rect x="788" y="596" width="1" height="43" fill="#c0c0c0"/>
<rect x="796" y="594" width="1" height="45" fill="#c0c0c0"/>
<rect x="804" y="594" width="1" height="45" fill="#c0c0c0"/>
<rect x="812" y="595" width="1" height="44" fill="#c0c0c0"/>
<rect x="820" y="596" width="1" height="43" fill="#c0c0c0"/>
<rect x="828" y="598" width="1" height="41" fill="#c0c0c0"/>
<rect x="836" y="599" width="1" height="40" fill="#c0c0c0"/>
<rect x="844" y="601" width="1" height="38" fill="#c0c0c0"/>
<rect x="852" y="604" width="1" height="35" fill="#c0c0c0"/>
<rect x="860" y="609" width="1" height="30" fill="#c0c0c0"/>
<rect x="868" y="615" width="1" height="24" fill="#c0c0c0"/>
<rect x="876" y="628" width="1" height="11" fill="#c0c0c0"/>
<rect x="884" y="636" width="1" height="3" fill="#c0c0c0"/>
<rect x="892" y="639" width="1" height="3" fill="#c0c0c0"/>
<rect x="900" y="639" width="1" height="11" fill="#c0c0c0"/>
<rect x="908" y="639" width="1" height="15" fill="#c0c0c0"/>
<rect x="916" y="639" width="1" height="13" fill="#c0c0c0"/>
<rect x="924" y="639" width="1" height="12" fill="#c0c0c0"/>
<rect x="932" y="639" width="1" height="11" fill="#c0c0c0"/>
<rect x="940" y="639" width="1" height="13" fill="#c0c0c0"/>
<rect x="948" y="639" width="1" height="13" fill="#c0c0c0"/>
<rect x="956" y="639" width="1" height="19" fill="#c0c0c0"/>
<rect x="964" y="639" width="1" height="21" fill="#c0c0c0"/>
<rect x="972" y="639" width="1" height="20" fill="#c0c0c0"/>
<rect x="980" y="639" width="1" height="19" fill="#c0c0c0"/>
<rect x="988" y="639" width="1" height="16" fill="#c0c0c0"/>
<rect x="996" y="639" width="1" height="13" fill="#c0c0c0"/>
<rect x="1004" y="639" width="1" height="8" fill="#c0c0c0"/>
<rect x="1012" y="639" width="1" height="3" fill="#c0c0c0"/>
<rect x="1020" y="637" width="1" height="2" fill="#c0c0c0"/>
<rect x="1028" y="632" width="1" height="7" fill="#c0c0c0"/>
<rect x="1036" y="632" width="1" height="7" fill="#c0c0c0"/>
<rect x="1044" y="632" width="1" height="7" fill="#c0c0c0"/>
<rect x="1052" y="631" width="1" height="8" fill="#c0c0c0"/>
<rect x="1060" y="632" width="1" height="7" fill="#c0c0c0"/>
<rect x="1068" y="637" width="1" height="2" fill="#c0c0c0"/>
<rect x="1076" y="638" width="1" height="1" fill="#c0c0c0"/>
<rect x="1084" y="639" width="1" height="1" fill="#c0c0c0"/>
<rect x="1092" y="639" width="1" height="5" fill="#c0c0c0"/>
<rect x="1100" y="639" width="1" height="6" fill="#c0c0c0"/>
<rect x="1108" y="639" width="1" height="6" fill="#c0c0c0"/>
<rect x="1116" y="639" width="1" height="6" fill="#c0c0c0"/>
<rect x="1124" y="639" width="1" height="5" fill="#c0c0c0"/>
<rect x="1132" y="639" width="1" height="4" fill="#c0c0c0"/>
<rect x="1140" y="639" width="1" height="4" fill="#c0c0c0"/>
<rect x="1148" y="639" width="1" height="4" fill="#c0c0c0"/>
<rect x="1156" y="639" width="1" height="2" fill="#c0c0c0"/>
<rect x="1164" y="639" width="1" height="3" fill="#c0c0c0"/>
<rect x="1172" y="639" width="1" height="3" fill="#c0c0c0"/>
<rect x="1180" y="639" width="1" height="2" fill="#c0c0c0"/>
<rect x="1188" y="637" width="1" height="2" fill="#c0c0c0"/>
<rect x="1196" y="629" width="1" height="10" fill="#c0c0c0"/>
<rect x="1204" y="619" width="1" height="20" fill="#c0c0c0"/>
<rect x="1212" y="612" width="1" height="27" fill="#c0c0c0"/>
<rect x="1220" y="607" width="1" height="32" fill="#c0c0c0"/>
<rect x="1228" y="605" width="1" height="34" fill="#c0c0c0"/>
<rect x="1236" y="603" width="1" height="36" fill="#c0c0c0"/>
<rect x="1244" y="602" width="1" height="37" fill="#c0c0c0"/>
<rect x="1252" y="602" width="1" height="37" fill="#c0c0c0"/>
<rect x="1260" y="602" width="1" height="37" fill="#c0c0c0"/>
<rect x="1268" y="601" width="1" height="38" fill="#c0c0c0"/>
<rect x="1276" y="602" width="1" height="37" fill="#c0c0c0"/>
<rect x="1284" y="603" width="1" height="36" fill="#c0c0c0"/>
<rect x="1292" y="606" width="1" height="33" fill="#c0c0c0"/>
<rect x="1300" y="608" width="1" height="31" fill="#c0c0c0"/>
<rect x="1308" y="610" width="1" height="29" fill="#c0c0c0"/>
<rect x="1316" y="611" width="1" height="28" fill="#c0c0c0"/>
<rect x="1324" y="608" width="1" height="31" fill="#c0c0c0"/>
<rect x="1332" y="605" width="1" height="34" fill="#c0c0c0"/>
<rect x="1340" y="602" width="1" height="37" fill="#c0c0c0"/>
<rect x="1348" y="602" width="1" height="37" fill="#c0c0c0"/>
<rect x="1356" y="603" width="1" height="36" fill="#c0c0c0"/>
<rect x="1364" y="605" width="1" height="34" fill="#c0c0c0"/>
<rect x="1372" y="605" width="1" height="34" fill="#c0c0c0"/>
<rect x="1380" y="606" width="1" height="33" fill="#c0c0c0"/>
</g>
<polyline points="0.0,630.8 24.8,630.0 42.0,629.0 62.0,630.0 74.4,634.0 86.8,638.2 104.0,645.6 119.0,651.3 138.9,655.0 161.0,657.3 188.4,659.3 210.8,669.2 235.6,679.0 260.3,694.0 285.0,711.3 305.0,725.0 322.4,730.7 347.0,730.7 372.0,728.2 391.8,725.0 400.0,723.5 412.4,720.0 424.8,710.0 449.6,690.3 474.4,670.4 499.2,655.5 511.6,646.9 529.0,638.2 548.8,630.0 563.7,628.3 578.5,630.0 598.4,635.0 623.2,639.4 648.0,635.0 672.8,624.6 697.5,608.4 722.3,597.3 747.0,592.3 772.0,593.6 796.7,596.0 820.0,595.3 854.7,595.3 869.6,601.0 884.5,609.7 901.8,620.8 919.2,634.0 939.0,645.6 958.9,652.3 973.7,655.5 998.5,655.5 1018.4,653.0 1038.2,645.6 1055.6,638.2 1077.9,634.5 1092.8,635.0 1117.6,639.4 1134.9,643.1 1167.1,643.9 1184.5,642.4 1201.8,638.2 1216.7,631.5 1229.1,625.8 1246.4,613.8 1262.9,605.6 1284.8,602.3 1298.5,602.9 1317.6,605.0 1380.6,605.0" fill="none" stroke="#ff0000" stroke-width="1" stroke-dasharray="3,3"/>
<line x1="1251.0" y1="600.0" x2="1374.0" y2="596.7" stroke="#ff0000" stroke-width="3.2" stroke-linecap="round"/>
<polygon points="1383.0,596.5 1374.1,601.7 1373.9,591.7" fill="#ff0000"/>
<text x="0" y="591" font-size="10" fill="#000" text-anchor="start" font-weight="normal" textLength="120" lengthAdjust="spacingAndGlyphs">ACD(12,26,9) 151.44 159.85</text>
</g>
<rect x="1648" y="578" width="2" height="1" fill="#000"/><rect x="1648" y="639" width="2" height="1" fill="#000"/><rect x="1648" y="747" width="2" height="1" fill="#000"/>
<text x="1651" y="589" font-size="10" fill="#000" text-anchor="start" font-weight="normal" textLength="28" lengthAdjust="spacingAndGlyphs">277.81</text>
<text x="1651" y="643" font-size="10" fill="#000" text-anchor="start" font-weight="normal" textLength="19" lengthAdjust="spacingAndGlyphs">0.00</text>
<text x="1651" y="745" font-size="10" fill="#000" text-anchor="start" font-weight="normal" textLength="31" lengthAdjust="spacingAndGlyphs">-510.44</text>
<g clip-path="url(#crsi)">
<line x1="0" y1="786.5" x2="1647" y2="786.5" stroke="#c0c0c0" stroke-width="1" stroke-dasharray="3,3"/>
<line x1="0" y1="837.5" x2="1647" y2="837.5" stroke="#c0c0c0" stroke-width="1" stroke-dasharray="3,3"/>
<line x1="0" y1="898.5" x2="1647" y2="898.5" stroke="#c0c0c0" stroke-width="1" stroke-dasharray="3,3"/>
<polyline points="0.0,826.3 12.4,832.3 23.6,832.3 36.0,829.3 44.6,837.2 52.0,841.7 59.5,851.1 68.2,870.2 76.9,864.5 84.3,867.7 91.7,864.5 100.4,873.4 107.9,838.7 116.5,838.0 126.5,841.7 138.9,849.1 148.8,857.1 156.2,853.4 164.9,858.6 172.3,858.6 181.0,866.5 188.4,869.5 196.4,887.6 204.6,878.4 212.0,880.1 220.7,856.6 236.8,856.6 244.2,876.9 252.4,878.9 260.4,890.0 267.8,885.1 276.5,881.4 285.1,880.1 301.3,872.0 308.7,860.3 317.4,857.1 332.3,864.0 339.7,877.7 348.4,883.9 364.5,857.1 372.0,858.6 380.6,858.6 391.8,852.1 404.2,842.4 414.9,842.2 421.0,841.2 429.8,838.0 436.7,836.2 444.1,839.2 452.0,838.0 459.5,839.7 467.0,841.7 476.4,847.2 484.3,821.4 492.2,819.9 500.4,811.5 508.6,822.4 516.5,826.8 524.0,828.8 532.7,839.7 540.1,838.0 548.8,838.0 556.2,836.2 563.7,845.4 572.3,849.1 581.0,840.5 588.4,836.2 596.4,842.2 604.6,842.2 612.0,838.7 620.7,833.8 628.1,819.9 636.8,814.0 644.2,812.0 652.4,812.0 660.4,808.2 668.5,805.7 676.5,800.8 684.7,796.6 692.6,796.6 700.5,794.6 708.7,795.8 716.9,802.5 724.8,814.4 732.3,819.9 740.9,815.7 748.4,812.0 757.0,812.0 764.5,810.0 771.9,802.5 780.6,799.0 788.0,797.6 796.7,797.6 804.2,796.6 811.6,795.1 820.0,808.2 828.7,809.5 836.1,805.7 844.8,810.7 852.2,815.7 860.2,835.5 868.4,839.7 876.5,872.7 884.5,862.0 892.4,866.0 899.8,868.5 908.0,861.5 916.2,839.7 924.6,838.0 932.1,842.2 940.3,848.6 948.4,851.1 956.4,863.5 963.8,857.8 972.5,848.6 980.7,845.4 988.6,836.2 996.5,837.2 1004.7,829.3 1012.2,819.9 1020.3,816.9 1028.3,816.4 1036.2,831.8 1044.4,834.3 1052.3,829.3 1060.5,837.2 1068.7,849.1 1076.6,846.7 1084.8,842.2 1092.8,852.1 1101.4,844.2 1108.9,842.2 1116.3,840.5 1124.5,839.2 1132.4,841.7 1141.1,836.2 1148.5,839.7 1156.7,834.3 1164.7,848.6 1172.1,836.7 1179.5,832.3 1188.2,825.6 1196.4,805.0 1204.3,801.5 1212.3,801.5 1220.4,808.2 1228.6,812.0 1236.0,808.5 1244.2,812.9 1251.9,811.3 1260.7,815.1 1268.3,812.9 1283.4,812.9 1291.6,817.6 1300.7,821.1 1308.0,820.3 1316.3,815.7 1324.5,802.5 1332.7,800.3 1340.1,793.0 1347.8,812.9 1356.0,813.5 1364.8,822.2 1372.4,819.0 1380.1,816.8" fill="none" stroke="#1e90ff" stroke-width="1" shape-rendering="crispEdges"/>
<line x1="1344.0" y1="814.5" x2="1380.0" y2="814.5" stroke="#ff0000" stroke-width="3.2" stroke-linecap="round"/>
<polygon points="1389.0,814.5 1380.0,819.5 1380.0,809.5" fill="#ff0000"/>
<text x="0" y="763" font-size="10" fill="#000" text-anchor="start" font-weight="normal" textLength="59" lengthAdjust="spacingAndGlyphs">SI(14) 61.9376</text>
</g>
<rect x="1648" y="751" width="2" height="1" fill="#000"/><rect x="1648" y="786" width="2" height="1" fill="#000"/><rect x="1648" y="837" width="2" height="1" fill="#000"/><rect x="1648" y="898" width="2" height="1" fill="#000"/><rect x="1648" y="918" width="2" height="1" fill="#000"/>
<text x="1651" y="761" font-size="10" fill="#000" text-anchor="start" font-weight="normal" textLength="15" lengthAdjust="spacingAndGlyphs">100</text>
<text x="1651" y="790" font-size="10" fill="#000" text-anchor="start" font-weight="normal" textLength="10" lengthAdjust="spacingAndGlyphs">80</text>
<text x="1651" y="841" font-size="10" fill="#000" text-anchor="start" font-weight="normal" textLength="10" lengthAdjust="spacingAndGlyphs">50</text>
<text x="1651" y="902" font-size="10" fill="#000" text-anchor="start" font-weight="normal" textLength="10" lengthAdjust="spacingAndGlyphs">15</text>
<text x="1651" y="922" font-size="10" fill="#000" text-anchor="start" font-weight="normal" textLength="5" lengthAdjust="spacingAndGlyphs">0</text>
<g shape-rendering="crispEdges">
<rect x="52" y="925" width="1" height="3" fill="#000"/>
<rect x="116" y="925" width="1" height="3" fill="#000"/>
<rect x="180" y="925" width="1" height="3" fill="#000"/>
<rect x="244" y="925" width="1" height="3" fill="#000"/>
<rect x="308" y="925" width="1" height="3" fill="#000"/>
<rect x="372" y="925" width="1" height="3" fill="#000"/>
<rect x="436" y="925" width="1" height="3" fill="#000"/>
<rect x="500" y="925" width="1" height="3" fill="#000"/>
<rect x="564" y="925" width="1" height="3" fill="#000"/>
<rect x="628" y="925" width="1" height="3" fill="#000"/>
<rect x="692" y="925" width="1" height="3" fill="#000"/>
<rect x="756" y="925" width="1" height="3" fill="#000"/>
<rect x="820" y="925" width="1" height="3" fill="#000"/>
<rect x="884" y="925" width="1" height="3" fill="#000"/>
<rect x="948" y="925" width="1" height="3" fill="#000"/>
<rect x="1012" y="925" width="1" height="3" fill="#000"/>
<rect x="1076" y="925" width="1" height="3" fill="#000"/>
<rect x="1140" y="925" width="1" height="3" fill="#000"/>
<rect x="1204" y="925" width="1" height="3" fill="#000"/>
<rect x="1268" y="925" width="1" height="3" fill="#000"/>
<rect x="1332" y="925" width="1" height="3" fill="#000"/>
</g>
<text x="51" y="938" font-size="10" fill="#000" text-anchor="start" font-weight="normal" textLength="55.6" lengthAdjust="spacingAndGlyphs">28 Sep 00:00</text>
<text x="115" y="938" font-size="10" fill="#000" text-anchor="start" font-weight="normal" textLength="55.6" lengthAdjust="spacingAndGlyphs">29 Sep 10:55</text>
<text x="179" y="938" font-size="10" fill="#000" text-anchor="start" font-weight="normal" textLength="55.6" lengthAdjust="spacingAndGlyphs">30 Sep 18:55</text>
<text x="243" y="938" font-size="10" fill="#000" text-anchor="start" font-weight="normal" textLength="48.3" lengthAdjust="spacingAndGlyphs">4 Oct 00:00</text>
<text x="307" y="938" font-size="10" fill="#000" text-anchor="start" font-weight="normal" textLength="48.3" lengthAdjust="spacingAndGlyphs">5 Oct 10:55</text>
<text x="371" y="938" font-size="10" fill="#000" text-anchor="start" font-weight="normal" textLength="48.3" lengthAdjust="spacingAndGlyphs">6 Oct 18:55</text>
<text x="435" y="938" font-size="10" fill="#000" text-anchor="start" font-weight="normal" textLength="48.3" lengthAdjust="spacingAndGlyphs">8 Oct 00:00</text>
<text x="499" y="938" font-size="10" fill="#000" text-anchor="start" font-weight="normal" textLength="52.8" lengthAdjust="spacingAndGlyphs">11 Oct 10:55</text>
<text x="563" y="938" font-size="10" fill="#000" text-anchor="start" font-weight="normal" textLength="53.5" lengthAdjust="spacingAndGlyphs">12 Oct 18:55</text>
<text x="627" y="938" font-size="10" fill="#000" text-anchor="start" font-weight="normal" textLength="53.5" lengthAdjust="spacingAndGlyphs">14 Oct 00:00</text>
<text x="691" y="938" font-size="10" fill="#000" text-anchor="start" font-weight="normal" textLength="53.5" lengthAdjust="spacingAndGlyphs">15 Oct 10:55</text>
<text x="755" y="938" font-size="10" fill="#000" text-anchor="start" font-weight="normal" textLength="53.5" lengthAdjust="spacingAndGlyphs">18 Oct 18:55</text>
<text x="819" y="938" font-size="10" fill="#000" text-anchor="start" font-weight="normal" textLength="53.5" lengthAdjust="spacingAndGlyphs">20 Oct 00:00</text>
<text x="883" y="938" font-size="10" fill="#000" text-anchor="start" font-weight="normal" textLength="53.5" lengthAdjust="spacingAndGlyphs">21 Oct 10:55</text>
<text x="947" y="938" font-size="10" fill="#000" text-anchor="start" font-weight="normal" textLength="53.5" lengthAdjust="spacingAndGlyphs">22 Oct 18:55</text>
<text x="1011" y="938" font-size="10" fill="#000" text-anchor="start" font-weight="normal" textLength="53.5" lengthAdjust="spacingAndGlyphs">26 Oct 00:00</text>
<text x="1075" y="938" font-size="10" fill="#000" text-anchor="start" font-weight="normal" textLength="53.5" lengthAdjust="spacingAndGlyphs">27 Oct 10:55</text>
<text x="1139" y="938" font-size="10" fill="#000" text-anchor="start" font-weight="normal" textLength="53.5" lengthAdjust="spacingAndGlyphs">28 Oct 18:55</text>
<text x="1203" y="938" font-size="10" fill="#000" text-anchor="start" font-weight="normal" textLength="50.4" lengthAdjust="spacingAndGlyphs">1 Nov 00:00</text>
<text x="1267" y="938" font-size="10" fill="#000" text-anchor="start" font-weight="normal" textLength="50.4" lengthAdjust="spacingAndGlyphs">2 Nov 10:55</text>
<text x="1331" y="938" font-size="10" fill="#000" text-anchor="start" font-weight="normal" textLength="50.4" lengthAdjust="spacingAndGlyphs">3 Nov 18:55</text>
<text x="-1" y="938" font-size="10" fill="#000" text-anchor="start" font-weight="normal" textLength="39" lengthAdjust="spacingAndGlyphs">Sep 2021</text>
</svg></body></html>
